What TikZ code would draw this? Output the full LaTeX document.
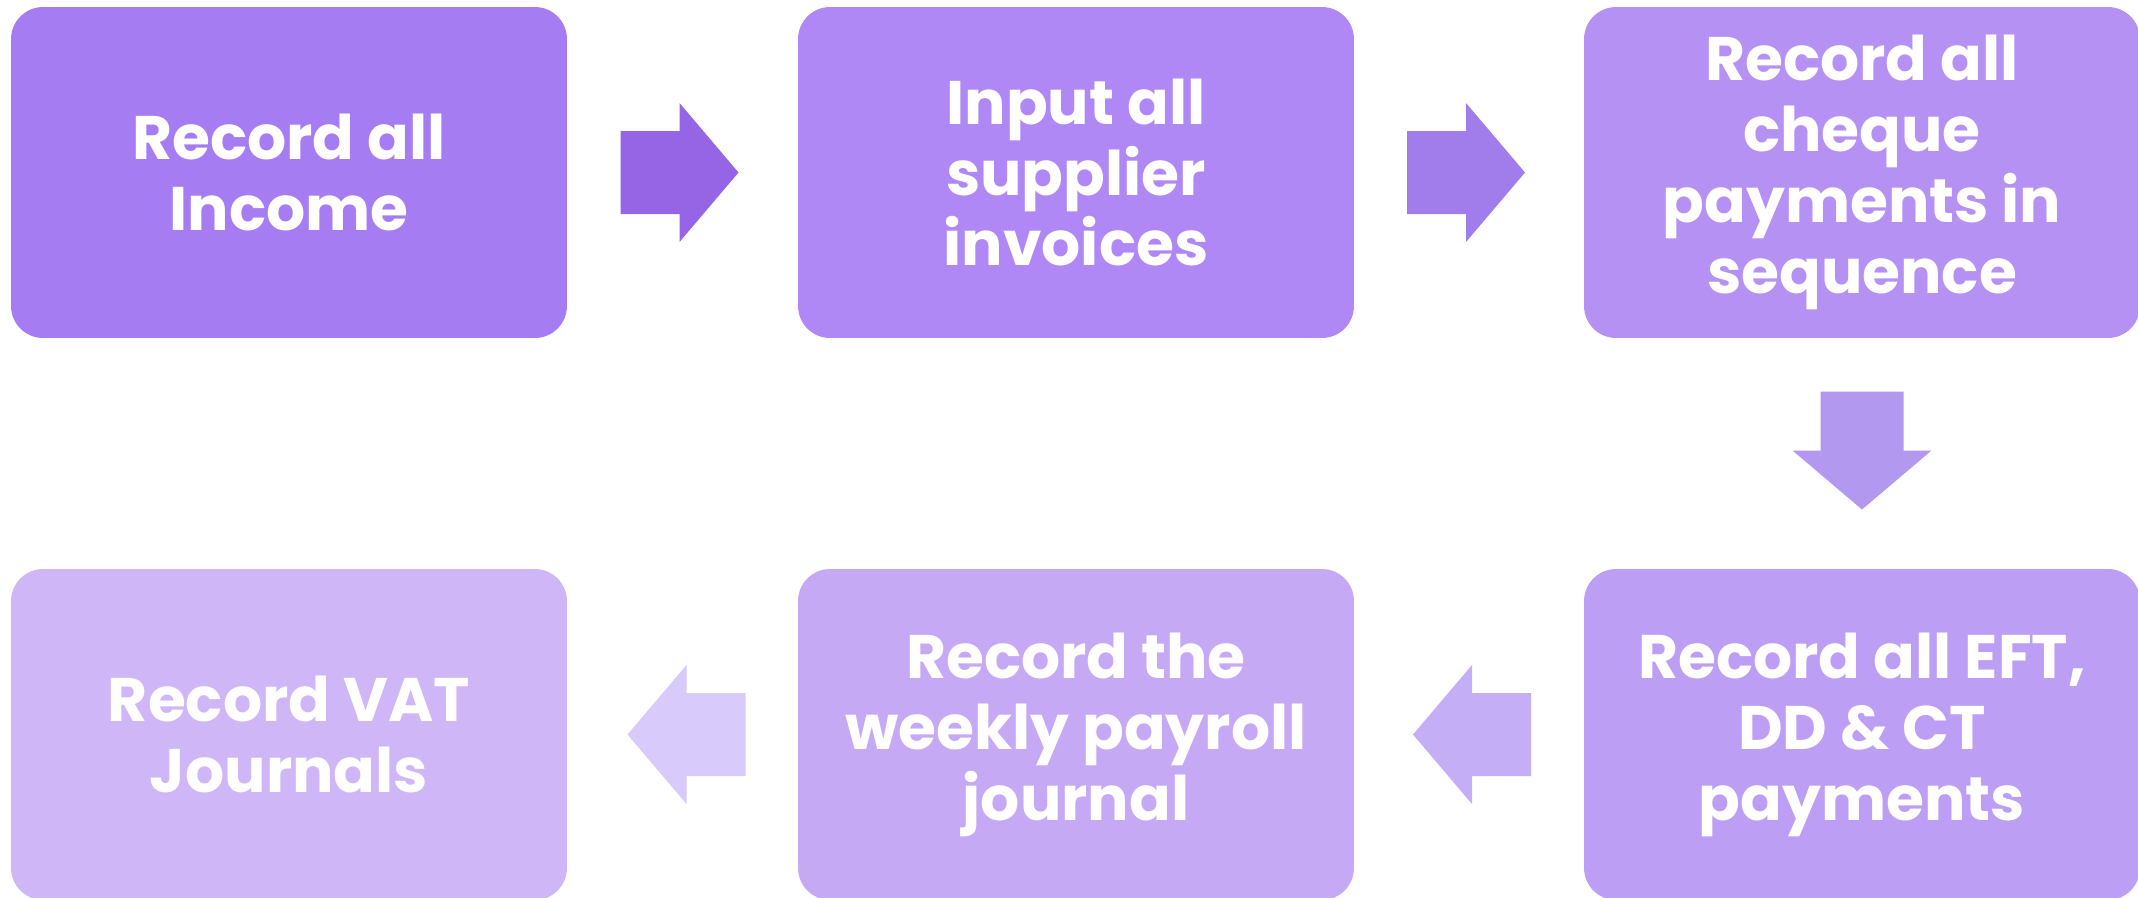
\documentclass[tikz,border=0pt]{standalone}
\usepackage{fontspec}
\setmainfont{Poppins}
\usetikzlibrary{calc}

\definecolor{boxA}{RGB}{166,124,242}
\definecolor{boxB}{RGB}{175,136,245}
\definecolor{boxC}{RGB}{180,145,243}
\definecolor{boxD}{RGB}{188,159,244}
\definecolor{boxE}{RGB}{197,169,245}
\definecolor{boxF}{RGB}{207,182,246}
\definecolor{arrA}{RGB}{149,101,229}
\definecolor{arrB}{RGB}{160,125,235}
\definecolor{arrC}{RGB}{179,152,240}
\definecolor{arrD}{RGB}{196,174,245}
\definecolor{arrE}{RGB}{216,202,250}

\tikzset{
  stepbox/.style={rectangle, rounded corners=0.64cm, inner sep=0pt,
    minimum width=11.12cm, minimum height=6.62cm,
    text=white, align=center,
    font=\fontsize{35}{40.4}\selectfont\bfseries},
  blockarrow/.pic={
    \fill[pic actions] (-59,-41.5) -- (0,-41.5) -- (0,-69.5) -- (59,0)
      -- (0,69.5) -- (0,41.5) -- (-59,41.5) -- cycle;
  }
}

\begin{document}
\begin{tikzpicture}[x=0.02cm, y=-0.02cm]
  \useasboundingbox (0,0) rectangle (2138,897);

  % process steps, top row left to right, bottom row right to left
  \node[stepbox, fill=boxA] (s1) at (289,172.5)  {Record all\\Income};
  \node[stepbox, fill=boxB] (s2) at (1076,172.5) {Input all\\supplier\\invoices};
  \node[stepbox, fill=boxC] (s3) at (1862,172.5) {Record all\\cheque\\payments in\\sequence};
  \node[stepbox, fill=boxD] (s4) at (1862,734.5) {Record all EFT,\\DD \& CT\\payments};
  \node[stepbox, fill=boxE] (s5) at (1076,734.5) {Record the\\weekly payroll\\journal};
  \node[stepbox, fill=boxF] (s6) at (289,734.5)  {Record VAT\\Journals};

  % block arrows between consecutive steps
  \pic[fill=arrA] at ($(s1.east)!0.5!(s2.west)+(-3,0)$) {blockarrow};
  \pic[fill=arrB] at ($(s2.east)!0.5!(s3.west)+(-3,0)$) {blockarrow};
  \pic[fill=arrC, rotate=-90] at ($(s3.south)!0.5!(s4.north)+(0,-3)$) {blockarrow};
  \pic[fill=arrD, rotate=180] at ($(s4.west)!0.5!(s5.east)+(3,0)$) {blockarrow};
  \pic[fill=arrE, rotate=180] at ($(s5.west)!0.5!(s6.east)+(4,0)$) {blockarrow};
\end{tikzpicture}
\end{document}
